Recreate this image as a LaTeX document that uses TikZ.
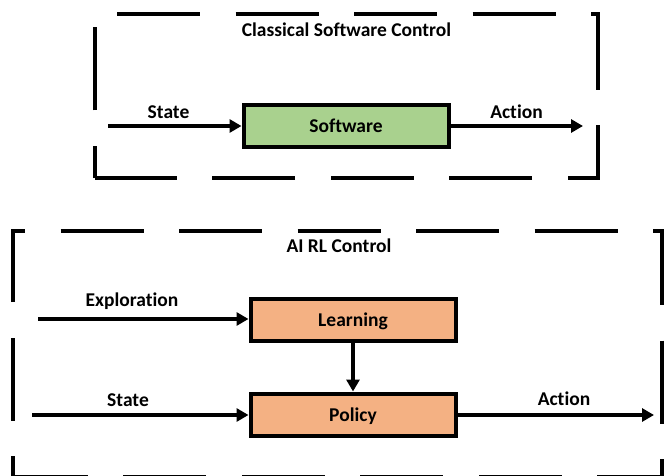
\documentclass[tikz,border=0pt]{standalone}
\usepackage{fontspec}
\setmainfont{Carlito}[Ligatures=CommonOff]
\usetikzlibrary{arrows.meta}
\definecolor{softgreen}{HTML}{A9D18E}
\definecolor{softorange}{HTML}{F4B183}
\tikzset{
	frame/.style={line width=4pt, dash pattern=on 83pt off 35.5pt},
	block/.style={draw=black, line width=4pt, minimum width=205pt, minimum height=42pt, inner sep=0pt, text height=13.5pt, text depth=0pt, font=\fontsize{19.5}{22}\selectfont\bfseries},
	flow/.style={line width=4pt, -{Triangle[length=12pt,width=13pt]}},
	tag/.style={anchor=base, inner sep=0pt, font=\fontsize{19.5}{22}\selectfont\bfseries}
}

\begin{document}
\begin{tikzpicture}[x=1pt, y=-1pt]
		%%%%% START %%%%%
		\useasboundingbox (0, 0) rectangle (664, 476);
		\clip (0, 0) rectangle (664, 476);
		
		% classical software control
		\draw[frame, dash phase=51pt] (95, 178) -- (95, 14) -- (598, 14) -- (598, 178) -- cycle;
		\node[tag] (classtitle) at (346.5, 36.5) {Classical Software Control};
		
		\node[block, fill=softgreen] (software) at (346, 126) {Software};
		\coordinate (statein) at (108, 126);
		\coordinate (actionout) at (583, 126);
		\draw[flow] (statein) -- (software.west);
		\draw[flow] (software.east) -- (actionout);
		\node[tag] (statelbl) at (168.5, 118.5) {State};
		\node[tag] (actionlbl) at (516.5, 119) {Action};
		
		% ai rl control
		\draw[frame, dash phase=62pt] (13, 477) -- (13, 231) -- (662, 231) -- (662, 477) -- cycle;
		\node[tag] (rltitle) at (339, 252.3) {AI RL Control};
		
		\node[block, fill=softorange] (learning) at (353, 319.5) {Learning};
		\node[block, fill=softorange] (policy) at (353, 414.5) {Policy};
		\coordinate (explorein) at (38, 319);
		\coordinate (rlstatein) at (32, 415);
		\coordinate (rlactionout) at (654, 415);
		\draw[flow] (explorein) -- (learning.west |- explorein);
		\draw[flow] (rlstatein) -- (policy.west |- rlstatein);
		\draw[flow] (policy.east |- rlactionout) -- (rlactionout);
		\draw[flow] (learning.south) -- (policy.north);
		\node[tag] (explorelbl) at (132, 306) {Exploration};
		\node[tag] (rlstatelbl) at (128, 406.7) {State};
		\node[tag] (rlactionlbl) at (564, 405.7) {Action};
		
		%%%%% END %%%%%
\end{tikzpicture}
\end{document}
